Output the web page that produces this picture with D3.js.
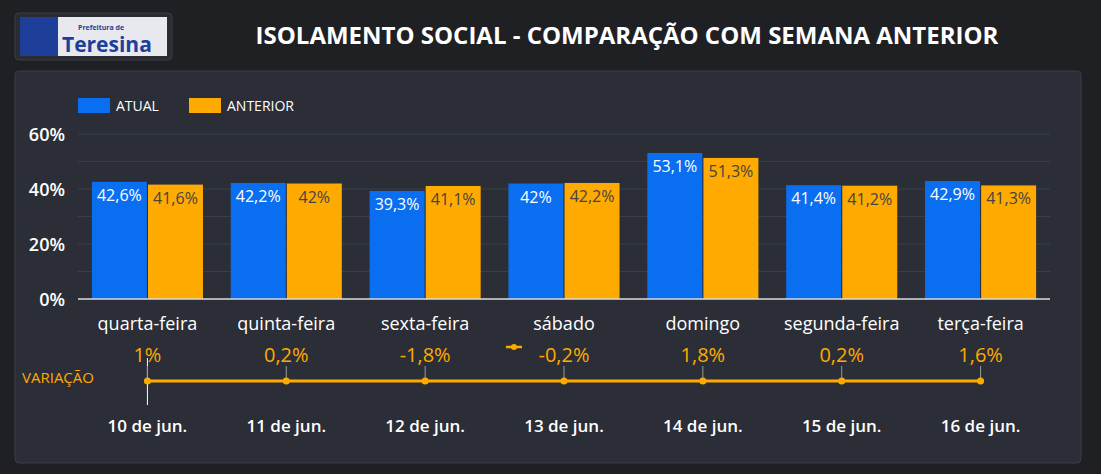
<!DOCTYPE html>
<html><head><meta charset="utf-8">
<script src="https://cdn.jsdelivr.net/npm/d3@7"></script>
<style>body{margin:0;background:#1f2024;font-family:"Open Sans",sans-serif;}</style>
</head><body><svg id="chart" width="1101" height="474"></svg>
<script>
const days = ["quarta-feira","quinta-feira","sexta-feira","sábado","domingo","segunda-feira","terça-feira"];
const dates = ["10 de jun.","11 de jun.","12 de jun.","13 de jun.","14 de jun.","15 de jun.","16 de jun."];
const atual = [42.6, 42.2, 39.3, 42, 53.1, 41.4, 42.9];
const anterior = [41.6, 42, 41.1, 42.2, 51.3, 41.2, 41.3];
const variacao = [1, 0.2, -1.8, -0.2, 1.8, 0.2, 1.6];
const yTicks = [0, 20, 40, 60];

const fmt = v => String(v).replace(".", ",") + "%";
const svg = d3.select("#chart");

// header
svg.append("rect").attr("x", 15).attr("y", 13).attr("width", 157).attr("height", 47).attr("rx", 4)
  .attr("fill", "#2a2c33").attr("stroke", "#3a3c44");
svg.append("rect").attr("x", 20).attr("y", 17).attr("width", 147).attr("height", 39).attr("fill", "#e8e9ee");
svg.append("rect").attr("x", 20).attr("y", 17).attr("width", 38).attr("height", 39).attr("fill", "#1d3f9a");
svg.append("text").attr("x", 78).attr("y", 30).attr("font-size", 7).attr("font-weight", "bold").attr("fill", "#1d3f9a").text("Prefeitura de");
svg.append("text").attr("x", 62).attr("y", 52).attr("font-size", 21).attr("font-weight", "bold").attr("fill", "#1d3f9a").text("Teresina");
svg.append("text").attr("x", 627).attr("y", 44).attr("text-anchor", "middle").attr("font-size", 24)
  .attr("font-weight", "bold").attr("fill", "#fff").text("ISOLAMENTO SOCIAL - COMPARAÇÃO COM SEMANA ANTERIOR");

// panel
svg.append("rect").attr("x", 15).attr("y", 71).attr("width", 1066).attr("height", 392).attr("rx", 4)
  .attr("fill", "#2b2e37").attr("stroke", "#3a3d46");

const x = d3.scaleBand().domain(days).range([78, 1050]).paddingInner(0.2).paddingOuter(0.1);
const inner = d3.scaleBand().domain(["a", "b"]).range([0, x.bandwidth()]).paddingInner(0.02);
const y = d3.scaleLinear().domain([0, 60]).range([299, 134]);

// grid
svg.append("g").selectAll("line").data(d3.range(10, 61, 10)).join("line")
  .attr("x1", 78).attr("x2", 1050).attr("y1", d => y(d)).attr("y2", d => y(d))
  .attr("stroke", "#3b3e48");
svg.append("g").selectAll("text").data(yTicks).join("text")
  .attr("x", 65).attr("y", d => y(d) + 7).attr("text-anchor", "end")
  .attr("font-size", 18).attr("font-weight", 600).attr("fill", "#fff").text(d => d + "%");

// legend
svg.append("rect").attr("x", 78).attr("y", 98).attr("width", 32).attr("height", 15).attr("fill", "#0a6ef0");
svg.append("text").attr("x", 116).attr("y", 111).attr("font-size", 14).attr("fill", "#fff").text("ATUAL");
svg.append("rect").attr("x", 189).attr("y", 98).attr("width", 32).attr("height", 15).attr("fill", "#ffaa00");
svg.append("text").attr("x", 227).attr("y", 111).attr("font-size", 14).attr("fill", "#fff").text("ANTERIOR");

// bars
const series = [
  {k: "a", vals: atual, color: "#0a6ef0", text: "#fff"},
  {k: "b", vals: anterior, color: "#ffaa00", text: "#444"}
];
series.forEach(s => {
  const g = svg.append("g");
  g.selectAll("rect").data(days).join("rect")
    .attr("x", d => x(d) + inner(s.k)).attr("width", inner.bandwidth())
    .attr("y", (d, i) => y(s.vals[i])).attr("height", (d, i) => y(0) - y(s.vals[i]))
    .attr("fill", s.color);
  g.selectAll("text").data(days).join("text")
    .attr("x", d => x(d) + inner(s.k) + inner.bandwidth() / 2)
    .attr("y", (d, i) => y(s.vals[i]) + 19).attr("text-anchor", "middle")
    .attr("font-size", 16).attr("fill", s.text).text((d, i) => fmt(s.vals[i]));
});

svg.append("line").attr("x1", 78).attr("x2", 1050).attr("y1", 299).attr("y2", 299).attr("stroke", "#ddd").attr("stroke-width", 1.5);
svg.append("g").selectAll("text").data(days).join("text")
  .attr("x", d => x(d) + x.bandwidth() / 2).attr("y", 330).attr("text-anchor", "middle")
  .attr("font-size", 18).attr("font-weight", 500).attr("fill", "#fff").text(d => d);

// variation line
const cx = i => x(days[i]) + x.bandwidth() / 2;
const vy = 381;
svg.append("text").attr("x", 22).attr("y", 383).attr("font-size", 15).attr("fill", "#ffaa00").text("VARIAÇÃO");
svg.append("line").attr("x1", cx(0)).attr("x2", cx(0)).attr("y1", 358).attr("y2", 405).attr("stroke", "#fff");
svg.append("line").attr("x1", cx(0)).attr("x2", cx(6)).attr("y1", vy).attr("y2", vy).attr("stroke", "#ffaa00").attr("stroke-width", 3);
const vg = svg.append("g");
vg.selectAll("line").data(variacao).join("line")
  .attr("x1", (d, i) => cx(i)).attr("x2", (d, i) => cx(i)).attr("y1", 366).attr("y2", vy)
  .attr("stroke", "#999");
vg.selectAll("circle").data(variacao).join("circle")
  .attr("cx", (d, i) => cx(i)).attr("cy", vy).attr("r", 3.5).attr("fill", "#ffaa00");
vg.selectAll("text").data(variacao).join("text")
  .attr("x", (d, i) => cx(i)).attr("y", 362).attr("text-anchor", "middle")
  .attr("font-size", 20).attr("fill", "#ffaa00").text(d => fmt(d));
svg.append("line").attr("x1", 506).attr("x2", 522).attr("y1", 347).attr("y2", 347).attr("stroke", "#ffaa00").attr("stroke-width", 2.5);
svg.append("circle").attr("cx", 514).attr("cy", 347).attr("r", 3).attr("fill", "#ffaa00");
svg.append("g").selectAll("text").data(dates).join("text")
  .attr("x", (d, i) => cx(i)).attr("y", 432).attr("text-anchor", "middle")
  .attr("font-size", 17).attr("font-weight", 600).attr("fill", "#fff").text(d => d);
</script></body></html>
